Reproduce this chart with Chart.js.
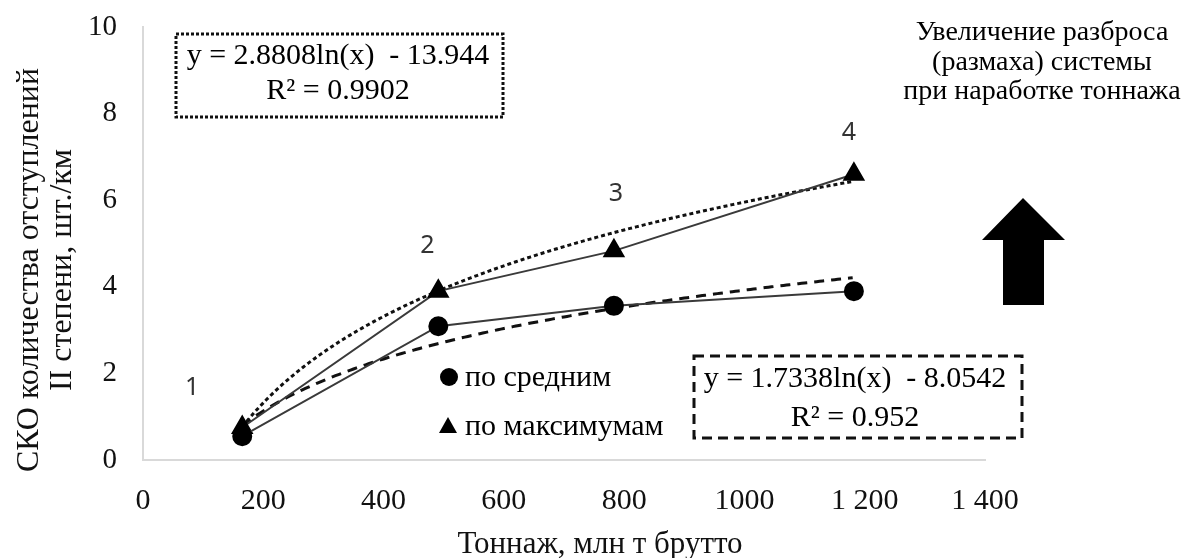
<!DOCTYPE html>
<html>
<head>
<meta charset="utf-8">
<script src="https://cdn.jsdelivr.net/npm/chart.js@4"></script>
<style>
  body { margin: 0; background: #fff; }
  #wrap { position: relative; width: 1186px; height: 558px; }
</style>
</head>
<body>
<div id="wrap"><canvas id="chart" width="1186" height="558"></canvas></div>
<script>
// data
var tonnage = [165, 491, 783, 1182];
var meanValues = [0.55, 3.09, 3.56, 3.9];
var maxValues = [0.75, 3.9, 4.83, 6.6];
var pointNumbers = ['1', '2', '3', '4'];
var xTickLabels = ['0', '200', '400', '600', '800', '1000', '1 200', '1 400'];
// log trendlines as printed on the chart: y = a*ln(x) + b
var maxTrend = [2.8808, -13.944];
var meanTrend = [1.7338, -8.0542];

var serif = '"Liberation Serif", "Times New Roman", serif';

function trendPoints(coef){
    var pts = [];
    for (var x = tonnage[0]; x <= tonnage[tonnage.length - 1]; x += 5) {
        pts.push({x: x, y: coef[0] * Math.log(x) + coef[1]});
    }
    return pts;
}

function xy(ys){
    return tonnage.map(function(x, i){ return {x: x, y: ys[i]}; });
}

// let layout.padding alone decide where the plot area sits
function noOverflow(scale){
    scale.paddingTop = 0;
    scale.paddingBottom = 0;
    scale.paddingLeft = 0;
    scale.paddingRight = 0;
}

var annotations = {
    id: 'annotations',
    afterDraw: function(chart){
        var ctx = chart.ctx;
        var xs = chart.scales.x, ys = chart.scales.y;
        ctx.save();

        // axis titles
        ctx.fillStyle = '#111';
        ctx.textAlign = 'center';
        ctx.textBaseline = 'middle';
        ctx.font = '31px ' + serif;
        ctx.fillText('Тоннаж, млн т брутто', 600, 545);

        ctx.save();
        ctx.translate(30, 270);
        ctx.rotate(-Math.PI / 2);
        ctx.font = '32px ' + serif;
        ctx.fillText('СКО количества отступлений', 0, 0);
        ctx.fillText('II степени, шт./км', 0, 33);
        ctx.restore();

        // point numbers
        var offs = [[-50, -40], [-11, -45], [2, -57], [-5, -41]];
        ctx.fillStyle = '#333';
        ctx.font = '25px "Noto Sans", sans-serif';
        pointNumbers.forEach(function(n, i){
            ctx.fillText(n, xs.getPixelForValue(tonnage[i]) + offs[i][0], ys.getPixelForValue(maxValues[i]) + offs[i][1]);
        });

        // equation boxes
        ctx.strokeStyle = '#111';
        ctx.lineWidth = 3;
        ctx.setLineDash([3, 2]);
        ctx.strokeRect(176, 34, 327, 83);
        ctx.setLineDash([10, 6]);
        ctx.strokeRect(694, 356, 328, 82);
        ctx.setLineDash([]);

        ctx.fillStyle = '#000';
        ctx.font = '30px ' + serif;
        ctx.fillText('y = 2.8808ln(x)  - 13.944', 338, 56);
        ctx.fillText('R² = 0.9902', 338, 91);
        ctx.fillText('y = 1.7338ln(x)  - 8.0542', 855, 379);
        ctx.fillText('R² = 0.952', 855, 418);

        // legend
        ctx.textAlign = 'left';
        ctx.font = '30px ' + serif;
        ctx.beginPath();
        ctx.arc(449, 377, 9, 0, Math.PI * 2);
        ctx.fill();
        ctx.fillText('по средним', 465, 378);
        ctx.beginPath();
        ctx.moveTo(448, 417);
        ctx.lineTo(457, 433);
        ctx.lineTo(439, 433);
        ctx.closePath();
        ctx.fill();
        ctx.fillText('по максимумам', 465, 427);

        // note and arrow on the right
        ctx.textAlign = 'center';
        ctx.font = '28px ' + serif;
        ctx.fillText('Увеличение разброса', 1042, 33);
        ctx.fillText('(размаха) системы', 1042, 63);
        ctx.fillText('при наработке тоннажа', 1042, 92);

        ctx.beginPath();
        ctx.moveTo(1023, 198);
        ctx.lineTo(1065, 240);
        ctx.lineTo(1044, 240);
        ctx.lineTo(1044, 305);
        ctx.lineTo(1003, 305);
        ctx.lineTo(1003, 240);
        ctx.lineTo(982, 240);
        ctx.closePath();
        ctx.fill();

        ctx.restore();
    }
};

var ctx = document.getElementById('chart').getContext('2d');
var chart = new Chart(ctx, {
    type: 'scatter',
    data: {
        datasets: [
            {
                label: 'по средним',
                data: xy(meanValues),
                showLine: true,
                borderColor: '#3a3a3a',
                borderWidth: 2,
                pointStyle: 'circle',
                pointRadius: 9,
                pointBackgroundColor: '#000',
                pointBorderColor: '#000'
            },
            {
                label: 'по максимумам',
                data: xy(maxValues),
                showLine: true,
                borderColor: '#3a3a3a',
                borderWidth: 2,
                pointStyle: 'triangle',
                pointRadius: 11,
                pointBackgroundColor: '#000',
                pointBorderColor: '#000'
            },
            {
                label: 'trend max',
                data: trendPoints(maxTrend),
                showLine: true,
                borderColor: '#111',
                borderWidth: 3,
                borderDash: [4, 3],
                pointRadius: 0
            },
            {
                label: 'trend mean',
                data: trendPoints(meanTrend),
                showLine: true,
                borderColor: '#111',
                borderWidth: 3,
                borderDash: [10, 7],
                pointRadius: 0
            }
        ]
    },
    options: {
        responsive: false,
        animation: false,
        layout: { padding: { left: 62, right: 201, top: 27, bottom: 16 } },
        plugins: { legend: { display: false }, tooltip: { enabled: false } },
        scales: {
            x: {
                min: 0, max: 1400,
                afterFit: noOverflow,
                grid: { display: false, drawTicks: false },
                border: { color: '#d9d9d9', width: 2 },
                ticks: {
                    stepSize: 200, padding: 23, color: '#111',
                    font: { family: serif, size: 30 },
                    callback: function(v){ return xTickLabels[v / 200]; }
                }
            },
            y: {
                min: 0, max: 10,
                afterFit: noOverflow,
                grid: { display: false, drawTicks: false },
                border: { color: '#d9d9d9', width: 2 },
                ticks: {
                    stepSize: 2, padding: 26, color: '#111',
                    font: { family: serif, size: 29 }
                }
            }
        }
    },
    plugins: [annotations]
});
</script>
</body>
</html>
